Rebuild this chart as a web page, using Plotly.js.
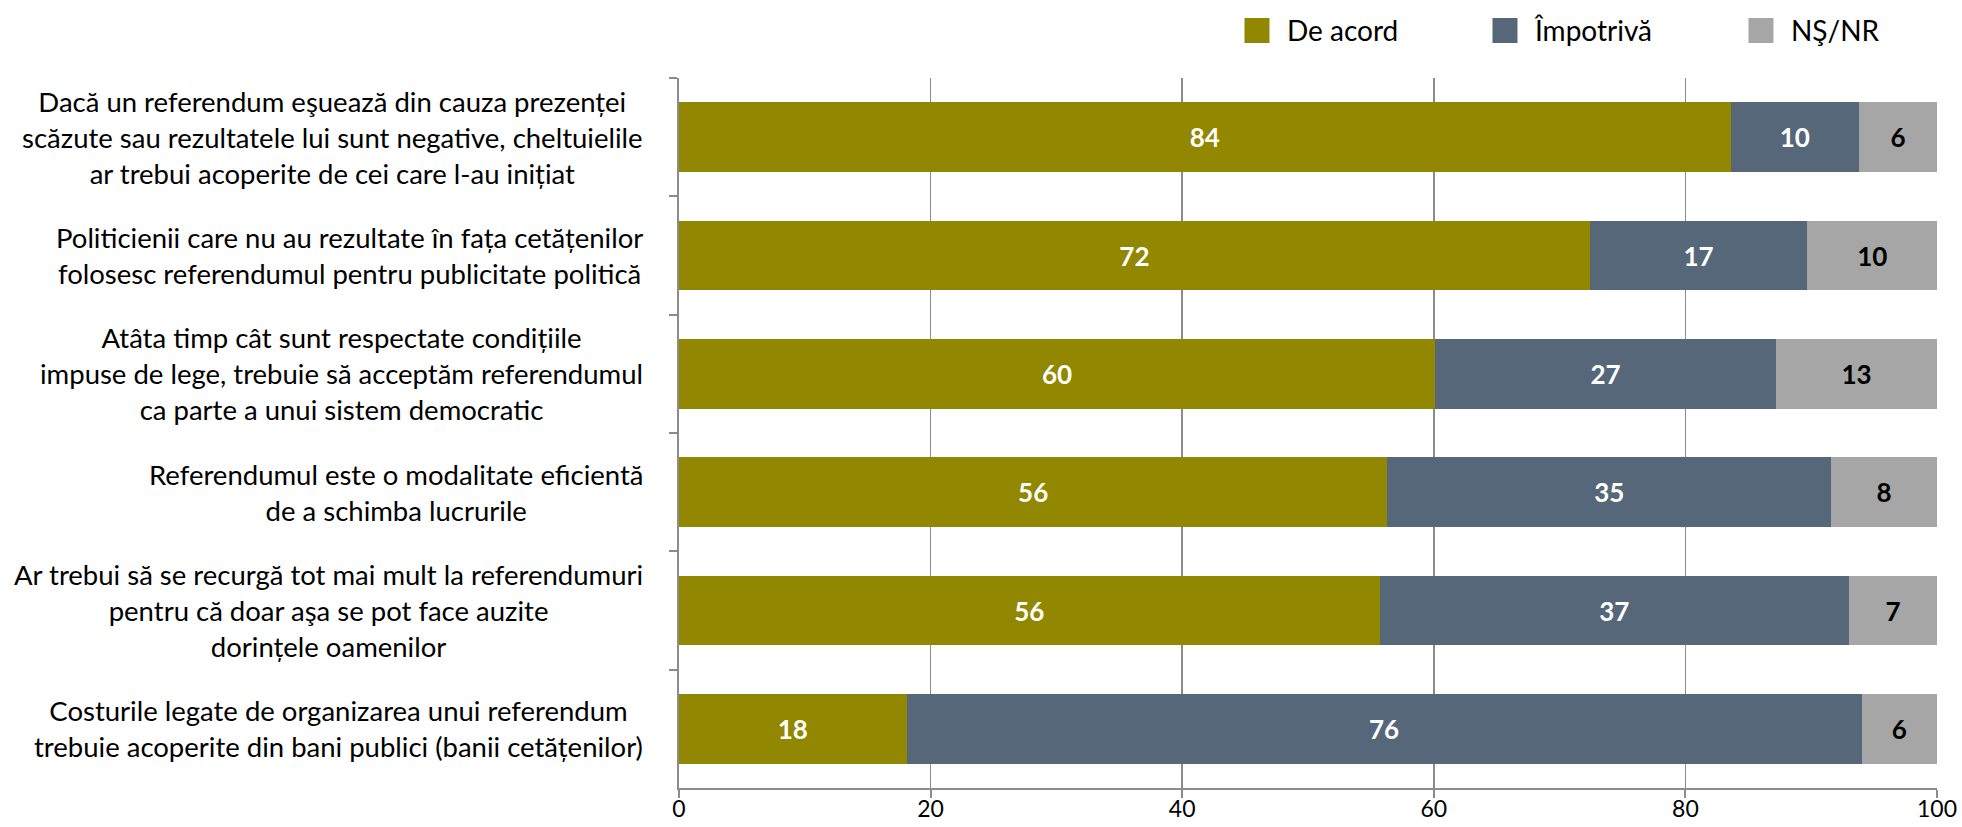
<!DOCTYPE html>
<html>
<head>
<meta charset="utf-8">
<script src="https://cdn.plot.ly/plotly-3.0.1.min.js"></script>
<style>html,body{margin:0;padding:0;background:#fff;}#chart{width:1962px;height:827px;}</style>
</head>
<body>
<div id="chart"></div>
<script>
const categories = [
  "Dacă un referendum eşuează din cauza prezenței<br>scăzute sau rezultatele lui sunt negative, cheltuielile<br>ar trebui acoperite de cei care l-au inițiat",
  "Politicienii care nu au rezultate în fața cetățenilor<br>folosesc referendumul pentru publicitate politică",
  "Atâta timp cât sunt respectate condițiile<br>impuse de lege, trebuie să acceptăm referendumul<br>ca parte a unui sistem democratic",
  "Referendumul este o modalitate eficientă<br>de a schimba lucrurile",
  "Ar trebui să se recurgă tot mai mult la referendumuri<br>pentru că doar aşa se pot face auzite<br>dorințele oamenilor",
  "Costurile legate de organizarea unui referendum<br>trebuie acoperite din bani publici (banii cetățenilor)"
];
const seriesNames = ["De acord", "Împotrivă", "NŞ/NR"];
const deAcord   = [83.6, 72.4, 60.1, 56.3, 55.7, 18.1];
const impotriva = [10.2, 17.3, 27.1, 35.3, 37.3, 75.9];
const nsnr      = [6.2, 10.3, 12.8, 8.4, 7.0, 6.0];
const xTicks = [0, 20, 40, 60, 80, 100];

const colors = ["#918700", "#56677A", "#A6A6A6"];
const textColors = ["#ffffff", "#ffffff", "#000000"];
const legendWidths = [183, 191, 95];
const FONT = "Lato, 'Open Sans', sans-serif";

const ids = categories.map((c, i) => "c" + i);
const values = [deAcord, impotriva, nsnr];

const traces = values.map((v, k) => ({
  type: "bar",
  orientation: "h",
  name: seriesNames[k],
  legendwidth: legendWidths[k],
  x: v,
  y: ids,
  marker: { color: colors[k], line: { width: 0 } },
  texttemplate: "%{x:.0f}",
  textposition: "inside",
  insidetextanchor: "middle",
  textangle: 0,
  constraintext: "none",
  textfont: { family: FONT, size: 26, color: textColors[k], weight: 700 },
  hoverinfo: "skip"
}));

const annotations = categories.map((c, i) => ({
  xref: "paper", yref: "y",
  x: 0, y: ids[i],
  xanchor: "right", yanchor: "middle",
  xshift: -34,
  align: "center",
  showarrow: false,
  text: c,
  font: { family: FONT, size: 27.5, color: "#000" }
}));

const layout = {
  width: 1962, height: 827,
  margin: { l: 679, r: 25, t: 78, b: 39, pad: 0 },
  paper_bgcolor: "#fff", plot_bgcolor: "#fff",
  barmode: "stack",
  bargap: 0.41,
  showlegend: true,
  legend: {
    orientation: "h",
    x: 0.4356, xanchor: "left",
    y: 0.993, yanchor: "top",
    yref: "container",
    itemwidth: 50,
    font: { family: FONT, size: 28, color: "#000" },
    entrywidthmode: "pixels",
    traceorder: "normal",
    bgcolor: "rgba(0,0,0,0)"
  },
  xaxis: {
    range: [0, 100],
    tickvals: xTicks,
    ticktext: xTicks.map(String),
    showgrid: true, gridcolor: "#8C8C8C", gridwidth: 1.5,
    zeroline: false,
    showline: true, linecolor: "#8C8C8C", linewidth: 2,
    ticks: "outside", ticklen: 8, tickcolor: "#8C8C8C", tickwidth: 2,
    ticklabelstandoff: -9,
    tickfont: { family: FONT, size: 23, color: "#000" },
    fixedrange: true
  },
  yaxis: {
    type: "category",
    categoryorder: "array", categoryarray: ids,
    autorange: "reversed",
    showticklabels: false,
    showgrid: false, zeroline: false,
    showline: true, linecolor: "#8C8C8C", linewidth: 2,
    ticks: "outside", tickson: "boundaries", ticklen: 8, tickcolor: "#8C8C8C", tickwidth: 2,
    fixedrange: true
  },
  annotations: annotations,
  font: { family: FONT }
};

function enlargeLegendKeys() {
  // enlarge legend swatches to match the reference's square keys
  document.querySelectorAll("#chart g.legendpoints path").forEach(p => {
    p.setAttribute("d", "M12.5,12.5H-12.5V-12.5H12.5Z");
  });
}
const gdEl = document.getElementById("chart");
Plotly.newPlot(gdEl, traces, layout, { displayModeBar: false, staticPlot: true });
enlargeLegendKeys();
gdEl.on && gdEl.on("plotly_afterplot", enlargeLegendKeys);
</script>
</body>
</html>
